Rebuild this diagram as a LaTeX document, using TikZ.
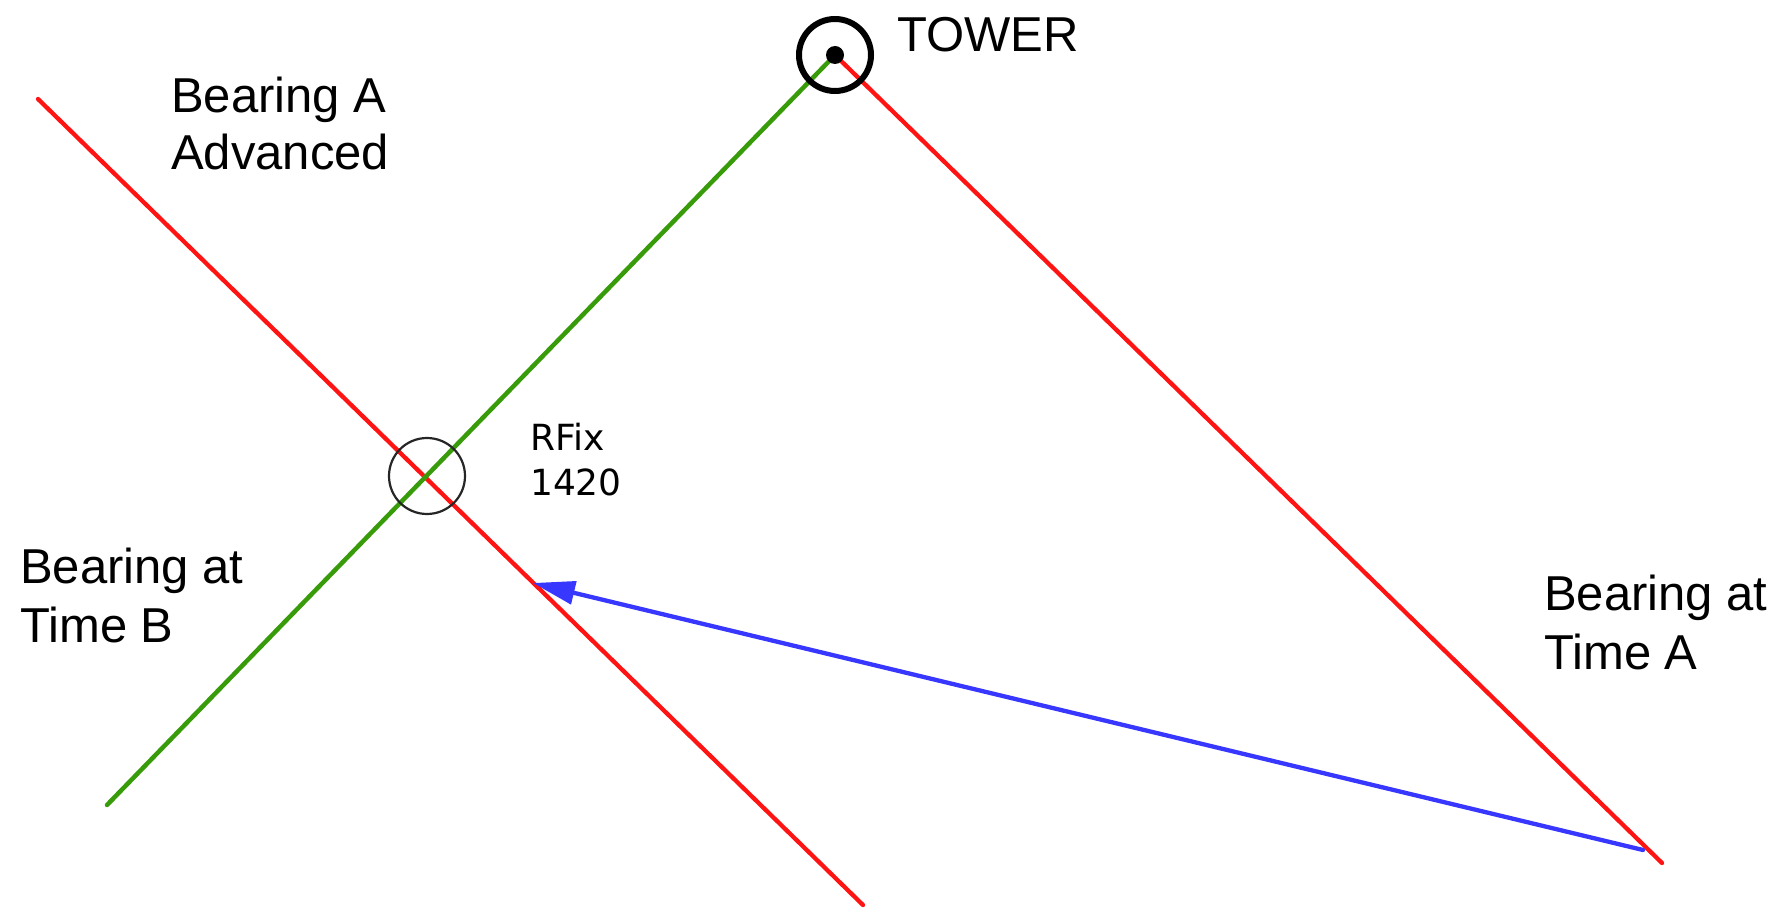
\documentclass[tikz,border=0pt]{standalone}
\usepackage{fontspec}
\setmainfont{Liberation Sans}
\newfontfamily\fixfont{DejaVu Sans}
\usetikzlibrary{arrows.meta}
\definecolor{brgred}{RGB}{255,20,20}
\definecolor{brggreen}{RGB}{55,155,10}
\definecolor{brgblue}{RGB}{55,55,255}
\tikzset{
  label text/.style={anchor=base west, inner sep=0pt, font=\fontsize{49}{58}\selectfont},
  fix text/.style={anchor=base west, inner sep=0pt, font=\fixfont\fontsize{36}{45}\selectfont},
  red bearing/.style={draw=brgred, line width=4.3pt, line cap=round},
  green bearing/.style={draw=brggreen, line width=4.5pt, line cap=round},
  course/.style={draw=brgblue, line width=4.3pt, line cap=round,
    -{Triangle[length=42pt,width=23pt]}},
}
\begin{document}
\begin{tikzpicture}[x=1pt,y=-1pt]
  \useasboundingbox (0,0) rectangle (1780,909);
  % key points
  \coordinate (tower) at (835,55);
  \coordinate (advTop) at (38,99);
  \coordinate (advEnd) at (863,905);
  \coordinate (bEnd) at (107,805);
  \coordinate (aEnd) at (1662,863);
  \coordinate (runStart) at (1643,850);
  \coordinate (runEnd) at (533,583);
  \coordinate (fix) at (427,476);

  % bearing lines
  \draw[red bearing] (advTop) -- (advEnd);
  \draw[red bearing] (tower) -- (aEnd);
  \draw[green bearing] (tower) -- (bEnd);

  % run between the two bearings
  \draw[course] (runStart) -- (runEnd);

  % tower symbol
  \draw[black, line width=6pt] (tower) circle[radius=36];
  \fill[black] (tower) circle[radius=9];

  % running fix circle
  \draw[black!85, line width=2.2pt] (fix) circle[radius=38];

  % labels
  \node[label text] (towerlbl) at (897,52) {TOWER};
  \node[label text] (advA) at (171,113) {Bearing A};
  \node[label text] (advB) at (171,170) {Advanced};
  \node[label text] (timeB1) at (20,583) {Bearing at};
  \node[label text] (timeB2) at (20,642) {Time B};
  \node[label text] (timeA1) at (1544,610) {Bearing at};
  \node[label text] (timeA2) at (1544,669) {Time A};
  \node[fix text] (fix1) at (530,450) {RFix};
  \node[fix text] (fix2) at (530,495) {1420};
\end{tikzpicture}
\end{document}
